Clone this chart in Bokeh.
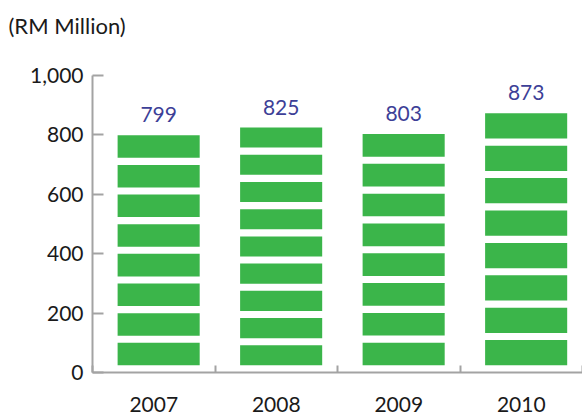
from bokeh.plotting import figure
from bokeh.models import Range1d, FixedTicker, NumeralTickFormatter, ColumnDataSource
from bokeh.core.properties import value
from bokeh.embed import file_html
from bokeh.resources import INLINE

# ---- data ----
years = ["2007", "2008", "2009", "2010"]
revenue = [799, 825, 803, 873]
segments = [8, 9, 8, 8]
y_ticks = [0, 200, 400, 600, 800, 1000]
unit_label = "(RM Million)"

GREEN = "#3bb54a"
LABEL_BLUE = "#3d3f97"
AXIS_GREY = "#a3a3a3"
FONT = "Lato"

bar_offset = 0.54
bar_width = 0.67
gap = 24
y_axis_max = 1000
y_view_max = 1118   # frame extends above axis end to leave room for the unit title

# build segment rectangles from data
xs, bottoms, tops = [], [], []
for i, (v, n) in enumerate(zip(revenue, segments)):
    step = v / n
    for k in range(n):
        xs.append(i + bar_offset)
        bottoms.append(k * step + gap)
        tops.append((k + 1) * step)
seg_src = ColumnDataSource(dict(x=xs, bottom=bottoms, top=tops))
lab_src = ColumnDataSource(dict(x=[i + bar_offset for i in range(len(years))],
                                y=revenue, text=[str(v) for v in revenue]))

p = figure(width=582, height=418, output_backend="svg", toolbar_location=None,
           x_range=Range1d(0, len(years)), y_range=Range1d(0, y_view_max),
           min_border_left=92, min_border_right=0, min_border_top=40, min_border_bottom=46,
           title=unit_label)
p.title.align = "left"
p.title.offset = -84
p.title.vertical_align = "top"
p.title.standoff = 0
p.title.text_font = FONT
p.title.text_font_size = "22px"
p.title.text_font_style = "normal"
p.title.text_color = "#1a1a1a"

p.outline_line_color = None
p.xgrid.grid_line_color = None
p.ygrid.grid_line_color = None
p.background_fill_color = "white"
p.border_fill_color = "white"

p.vbar(x="x", bottom="bottom", top="top", width=bar_width, source=seg_src,
       fill_color=GREEN, line_color=None)

p.text(x="x", y="y", text="text", source=lab_src, y_offset=-13,
       text_align="center", text_baseline="bottom", text_color=LABEL_BLUE,
       text_font=value(FONT), text_font_size="21px")

# x axis: labels at category centres, ticks at boundaries
xa = p.xaxis[0]
xa.ticker = FixedTicker(ticks=[i + 0.5 for i in range(len(years))],
                        minor_ticks=list(range(len(years) + 1)))
xa.major_label_overrides = {i + 0.5: y for i, y in enumerate(years)}
xa.major_tick_in = 0
xa.major_tick_out = 0
xa.minor_tick_in = 7
xa.minor_tick_out = 0
xa.minor_tick_line_color = AXIS_GREY
xa.minor_tick_line_width = 2
xa.axis_line_color = AXIS_GREY
xa.axis_line_width = 2
xa.major_label_standoff = 24
xa.major_label_text_font = FONT
xa.major_label_text_font_size = "21px"
xa.major_label_text_color = "#1a1a1a"

ya = p.yaxis[0]
ya.bounds = (0, y_axis_max)
ya.ticker = FixedTicker(ticks=y_ticks, minor_ticks=[])
ya.formatter = NumeralTickFormatter(format="0,0")
ya.major_tick_in = 11
ya.major_tick_out = 0
ya.major_tick_line_color = AXIS_GREY
ya.major_tick_line_width = 2
ya.axis_line_color = AXIS_GREY
ya.axis_line_width = 2
ya.major_label_standoff = 9
ya.major_label_text_font = FONT
ya.major_label_text_font_size = "21px"
ya.major_label_text_color = "#1a1a1a"

open("out.html", "w").write(file_html(p, INLINE))
